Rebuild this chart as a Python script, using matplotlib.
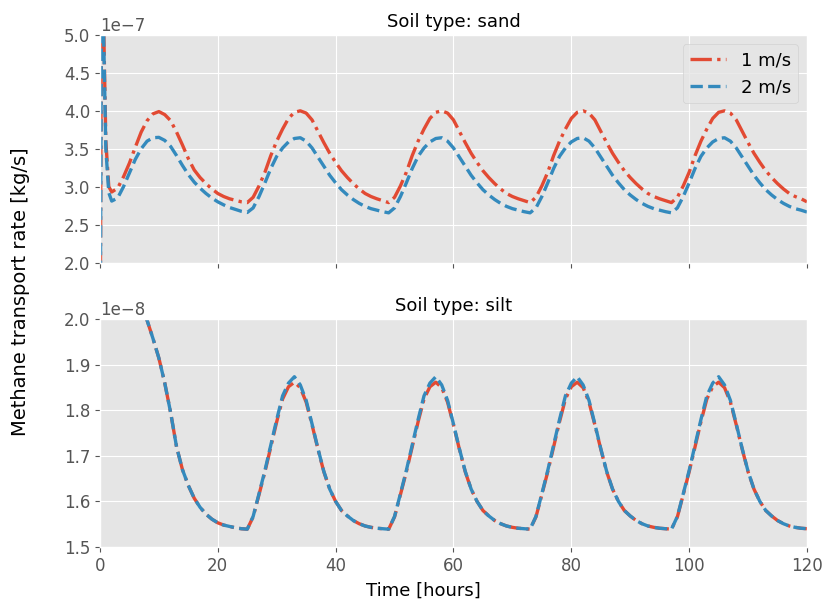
import numpy as np
import matplotlib
matplotlib.use("Agg")
import matplotlib.pyplot as plt

plt.style.use("ggplot")

# time axis (hours); sand has a few extra points over the start-up spike
sand_hours = [0.0, 0.3, 1.0, 1.5] + list(range(2, 121))
silt_hours = list(range(0, 121))

# methane transport rate, sand [1e-7 kg/s]
sand_1ms = [
    0.0, 6.5, 3.6, 3.0,
    2.93, 2.98, 3.13, 3.31, 3.52, 3.72, 3.87, 3.96, 3.99, 3.95,
    3.87, 3.72, 3.55, 3.37, 3.22, 3.12, 3.04, 2.97, 2.91, 2.87,
    2.84, 2.82, 2.80, 2.79,
    2.86, 3.01, 3.19, 3.41, 3.60, 3.76, 3.90, 3.98, 4.00, 3.97, 3.88, 3.73,
    3.58, 3.44, 3.32, 3.21, 3.12, 3.04, 2.97, 2.91, 2.87, 2.84, 2.815, 2.79,
    2.86, 3.01, 3.19, 3.41, 3.60, 3.76, 3.90, 3.98, 4.00, 3.97, 3.88, 3.73,
    3.58, 3.44, 3.32, 3.21, 3.12, 3.04, 2.97, 2.91, 2.87, 2.84, 2.815, 2.79,
    2.86, 3.01, 3.19, 3.41, 3.60, 3.76, 3.90, 3.98, 4.00, 3.97, 3.88, 3.73,
    3.58, 3.44, 3.32, 3.21, 3.12, 3.04, 2.97, 2.91, 2.87, 2.84, 2.815, 2.79,
    2.86, 3.01, 3.19, 3.41, 3.60, 3.76, 3.90, 3.98, 4.00, 3.97, 3.88, 3.73,
    3.58, 3.44, 3.32, 3.21, 3.12, 3.04, 2.97, 2.91, 2.87, 2.84, 2.80,
]
sand_2ms = [
    0.0, 6.3, 3.5, 2.92,
    2.81, 2.85, 3.00, 3.18, 3.36, 3.50, 3.60, 3.645, 3.65, 3.61,
    3.53, 3.41, 3.28, 3.16, 3.06, 2.98, 2.91, 2.85, 2.80, 2.76,
    2.725, 2.70, 2.675, 2.66,
    2.72, 2.87, 3.05, 3.24, 3.40, 3.51, 3.59, 3.635, 3.645, 3.60, 3.51, 3.39,
    3.27, 3.15, 3.05, 2.96, 2.89, 2.83, 2.78, 2.74, 2.71, 2.69, 2.67, 2.655,
    2.72, 2.87, 3.05, 3.24, 3.40, 3.51, 3.59, 3.635, 3.645, 3.60, 3.51, 3.39,
    3.27, 3.15, 3.05, 2.96, 2.89, 2.83, 2.78, 2.74, 2.71, 2.69, 2.67, 2.655,
    2.72, 2.87, 3.05, 3.24, 3.40, 3.51, 3.59, 3.635, 3.645, 3.60, 3.51, 3.39,
    3.27, 3.15, 3.05, 2.96, 2.89, 2.83, 2.78, 2.74, 2.71, 2.69, 2.67, 2.655,
    2.72, 2.87, 3.05, 3.24, 3.40, 3.51, 3.59, 3.635, 3.645, 3.60, 3.51, 3.39,
    3.27, 3.15, 3.05, 2.96, 2.89, 2.83, 2.78, 2.74, 2.71, 2.69, 2.665,
]

# methane transport rate, silt [1e-8 kg/s]
silt_1ms = [
    3.2, 2.9, 2.65, 2.45, 2.3, 2.18, 2.1, 2.04, 1.998, 1.958,
    1.915, 1.86, 1.795, 1.72, 1.67, 1.635, 1.607, 1.587, 1.572, 1.561,
    1.553, 1.548, 1.545, 1.542, 1.540, 1.539,
    1.566, 1.615, 1.665, 1.72, 1.775, 1.825, 1.852, 1.862, 1.850, 1.818, 1.768, 1.715,
    1.665, 1.627, 1.600, 1.580, 1.568, 1.558, 1.551, 1.546, 1.543, 1.541, 1.540, 1.539,
    1.566, 1.615, 1.665, 1.72, 1.775, 1.825, 1.852, 1.862, 1.850, 1.818, 1.768, 1.715,
    1.665, 1.627, 1.600, 1.580, 1.568, 1.558, 1.551, 1.546, 1.543, 1.541, 1.540, 1.539,
    1.566, 1.615, 1.665, 1.72, 1.775, 1.825, 1.852, 1.862, 1.850, 1.818, 1.768, 1.715,
    1.665, 1.627, 1.600, 1.580, 1.568, 1.558, 1.551, 1.546, 1.543, 1.541, 1.540, 1.539,
    1.566, 1.615, 1.665, 1.72, 1.775, 1.825, 1.852, 1.862, 1.850, 1.818, 1.768, 1.715,
    1.665, 1.627, 1.600, 1.580, 1.568, 1.558, 1.551, 1.546, 1.543, 1.541, 1.540,
]
silt_2ms = [
    3.2, 2.9, 2.65, 2.45, 2.3, 2.18, 2.1, 2.04, 1.998, 1.958,
    1.915, 1.86, 1.795, 1.72, 1.67, 1.635, 1.607, 1.587, 1.572, 1.561,
    1.553, 1.548, 1.545, 1.542, 1.540, 1.539,
    1.567, 1.617, 1.668, 1.724, 1.780, 1.832, 1.860, 1.874, 1.856, 1.822, 1.770, 1.716,
    1.666, 1.627, 1.600, 1.580, 1.568, 1.558, 1.551, 1.546, 1.543, 1.541, 1.540, 1.539,
    1.567, 1.617, 1.668, 1.724, 1.780, 1.832, 1.860, 1.874, 1.856, 1.822, 1.770, 1.716,
    1.666, 1.627, 1.600, 1.580, 1.568, 1.558, 1.551, 1.546, 1.543, 1.541, 1.540, 1.539,
    1.567, 1.617, 1.668, 1.724, 1.780, 1.832, 1.860, 1.874, 1.856, 1.822, 1.770, 1.716,
    1.666, 1.627, 1.600, 1.580, 1.568, 1.558, 1.551, 1.546, 1.543, 1.541, 1.540, 1.539,
    1.567, 1.617, 1.668, 1.724, 1.780, 1.832, 1.860, 1.874, 1.856, 1.822, 1.770, 1.716,
    1.666, 1.627, 1.600, 1.580, 1.568, 1.558, 1.551, 1.546, 1.543, 1.541, 1.540,
]

speed_labels = ["1 m/s", "2 m/s"]
x_ticks = [0, 20, 40, 60, 80, 100, 120]
sand_yticks = [2.0, 2.5, 3.0, 3.5, 4.0, 4.5, 5.0]
silt_yticks = [1.5, 1.6, 1.7, 1.8, 1.9, 2.0]

LW = 2.4
red, blue = "#E24A33", "#348ABD"

fig, (ax_sand, ax_silt) = plt.subplots(2, 1, sharex=True, figsize=(8.26, 6.03), dpi=100)
fig.subplots_adjust(left=0.121, right=0.977, top=0.942, bottom=0.093, hspace=0.25)

ax_sand.plot(sand_hours, np.array(sand_1ms) * 1e-7, color=red, ls="-.", lw=LW, label=speed_labels[0])
ax_sand.plot(sand_hours, np.array(sand_2ms) * 1e-7, color=blue, ls="--", lw=LW, label=speed_labels[1])
ax_sand.set_ylim(2.0e-7, 5.0e-7)
ax_sand.set_yticks(np.array(sand_yticks) * 1e-7)
ax_sand.set_title("Soil type: sand", fontsize=13)
ax_sand.legend(loc="upper right", fontsize=13)

ax_silt.plot(silt_hours, np.array(silt_1ms) * 1e-8, color=red, ls="-.", lw=LW, label=speed_labels[0])
ax_silt.plot(silt_hours, np.array(silt_2ms) * 1e-8, color=blue, ls="--", lw=LW, label=speed_labels[1])
ax_silt.set_ylim(1.5e-8, 2.0e-8)
ax_silt.set_yticks(np.array(silt_yticks) * 1e-8)
ax_silt.set_title("Soil type: silt", fontsize=13)

ax_silt.set_xlim(0, 120)
ax_silt.set_xticks(x_ticks)

for ax in (ax_sand, ax_silt):
    ax.tick_params(labelsize=12)
    ax.yaxis.get_offset_text().set_fontsize(12)

fig.text(0.025, 0.517, "Methane transport rate [kg/s]", rotation=90,
         ha="center", va="center", fontsize=14)
fig.text(0.513, 0.021, "Time [hours]", ha="center", va="center", fontsize=13)

fig.savefig("out.png", dpi=100)
